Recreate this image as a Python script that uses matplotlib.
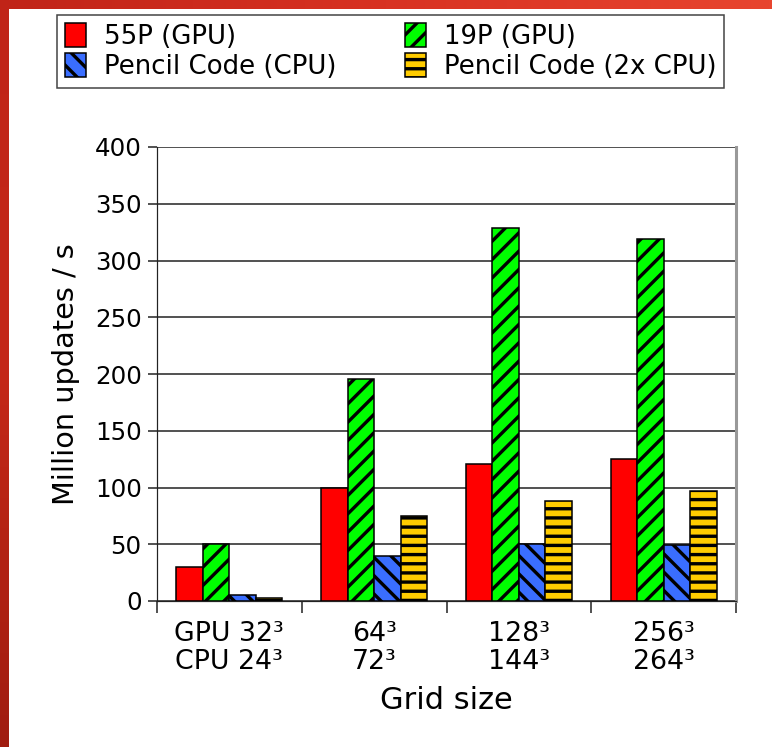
import numpy as np
import matplotlib
matplotlib.use("Agg")
import matplotlib.pyplot as plt
from matplotlib.patches import Patch

categories = ["GPU 32³\nCPU 24³", "64³\n72³", "128³\n144³", "256³\n264³"]
series_names = ["55P (GPU)", "19P (GPU)", "Pencil Code (CPU)", "Pencil Code (2x CPU)"]
v_55p = [30, 100, 121, 125]
v_19p = [50, 196, 329, 319]
v_pc_cpu = [5, 40, 50, 49]
v_pc_2x = [3, 75, 88, 97]

colors = ["#ff0000", "#00ff00", "#3a6eff", "#ffcc00"]
hatches = [None, "//", "\\\\", "--"]

DPI = 110
plt.rcParams["hatch.linewidth"] = 2.2
plt.rcParams["font.family"] = ["DejaVu Sans"]

fig = plt.figure(figsize=(772 / DPI, 747 / DPI), dpi=DPI)
W, H = 772, 747

# red frame
top_ax = fig.add_axes([0, 1 - 9 / H, 1, 9 / H], zorder=-5)
top_ax.imshow(np.linspace(0, 1, 256)[None, :], aspect="auto",
              cmap=matplotlib.colors.LinearSegmentedColormap.from_list("t", ["#c02418", "#d83222", "#e8452f"]),
              extent=[0, 1, 0, 1])
top_ax.axis("off")
left_ax = fig.add_axes([0, 0, 9 / W, 1], zorder=-5)
left_ax.imshow(np.linspace(0, 1, 256)[:, None], aspect="auto",
               cmap=matplotlib.colors.LinearSegmentedColormap.from_list("l", ["#c02418", "#c42818", "#a01c10"]),
               extent=[0, 1, 0, 1])
left_ax.axis("off")

ax = fig.add_axes([157 / W, 1 - 601 / H, (736 - 157) / W, (601 - 147) / H])
ax.set_axisbelow(True)

x = np.arange(len(categories)) + 0.5
bw = 0.183
data = [v_55p, v_19p, v_pc_cpu, v_pc_2x]
for i, (vals, c, h) in enumerate(zip(data, colors, hatches)):
    ax.bar(x + (i - 1.5) * bw, vals, bw, color=c, edgecolor="black", linewidth=1.0, hatch=h, zorder=3)

ax.set_xlim(0, 4)
ax.set_ylim(0, 400)
ax.set_yticks(np.arange(0, 401, 50))
ax.yaxis.grid(True, color="#222222", linewidth=1.0)
ax.set_xticks([0, 1, 2, 3, 4])
ax.set_xticklabels([])
ax.set_xticks(x, minor=True)
ax.set_xticklabels(categories, minor=True, fontsize=17.5, linespacing=1.1)
ax.tick_params(axis="x", which="minor", length=0, pad=13)
ax.tick_params(axis="x", which="major", length=8, width=1.0, direction="out", color="#222222")
ax.tick_params(axis="y", length=6, width=1.0, labelsize=16, pad=4, color="#222222")
ax.spines["top"].set_visible(False)
ax.spines["right"].set_color("#999999")
ax.spines["right"].set_linewidth(2)
ax.spines["left"].set_color("#222222")
ax.spines["bottom"].set_color("#222222")
ax.set_ylabel("Million updates / s", fontsize=18.8, labelpad=10)
ax.set_xlabel("Grid size", fontsize=20, labelpad=7)

handles = [Patch(facecolor=c, edgecolor="black", hatch=h, linewidth=1.0) for c, h in zip(colors, hatches)]
order = [0, 2, 1, 3]
leg = fig.legend([handles[i] for i in order], [series_names[i] for i in order], ncol=2,
                 loc="upper left", bbox_to_anchor=(57 / W, 1 - 15 / H), fontsize=17,
                 frameon=True, fancybox=False, edgecolor="#444444", framealpha=1,
                 handlelength=0.8, handleheight=1.05, handletextpad=0.7, columnspacing=2.65,
                 labelspacing=0.12, borderpad=0.3, borderaxespad=0)
leg.get_frame().set_linewidth(1.0)

fig.savefig("out.png", dpi=DPI)
